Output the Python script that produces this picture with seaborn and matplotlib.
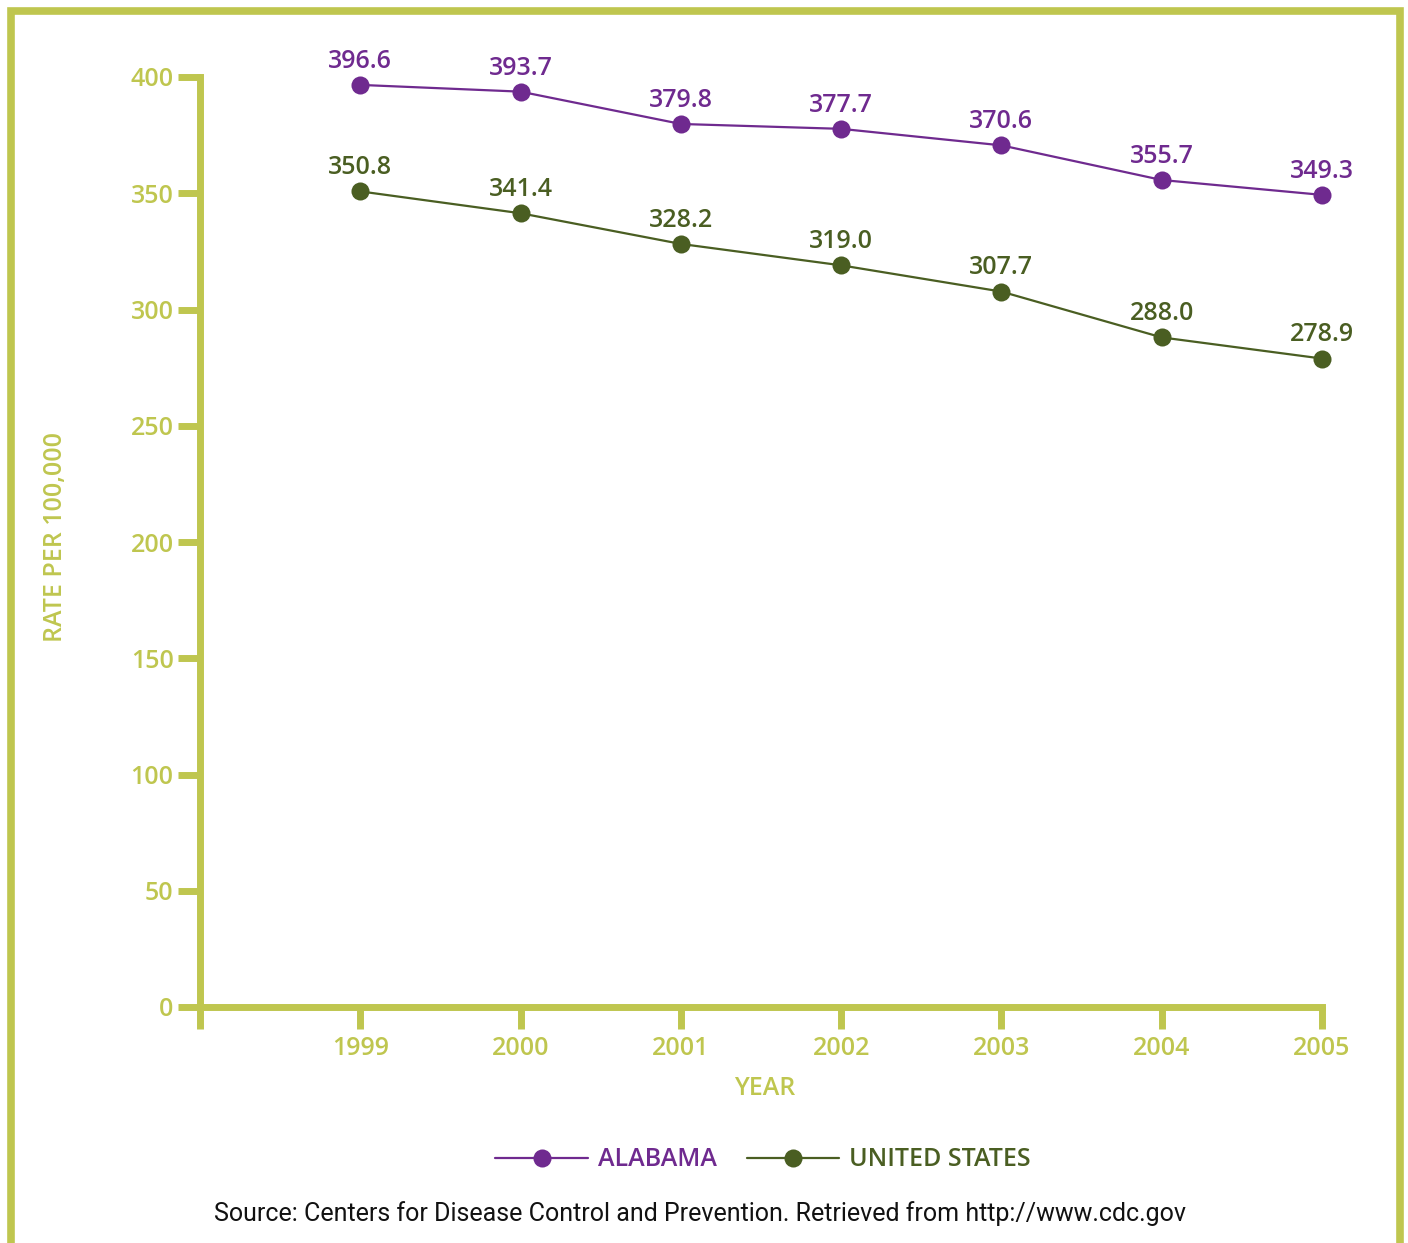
import numpy as np
import pandas as pd
import matplotlib
matplotlib.use("Agg")
import matplotlib.pyplot as plt
from matplotlib.lines import Line2D
import seaborn as sns

# data
years = [1999, 2000, 2001, 2002, 2003, 2004, 2005]
alabama = [396.6, 393.7, 379.8, 377.7, 370.6, 355.7, 349.3]
united_states = [350.8, 341.4, 328.2, 319.0, 307.7, 288.0, 278.9]
series_names = ["ALABAMA", "UNITED STATES"]
y_ticks = [0, 50, 100, 150, 200, 250, 300, 350, 400]

OLIVE = "#bfc64f"
PURPLE = "#6f2a8f"
GREEN = "#4a5e22"
colors = {"ALABAMA": PURPLE, "UNITED STATES": GREEN}

df = pd.DataFrame({
    "year": years * 2,
    "rate": alabama + united_states,
    "region": [series_names[0]] * len(years) + [series_names[1]] * len(years),
})

sns.set_theme(style="white")
plt.rcParams["font.family"] = ["Open Sans", "DejaVu Sans"]

fig = plt.figure(figsize=(14.08, 12.43), dpi=100)
ax = fig.add_axes([200 / 1408, 1 - 1007 / 1243, 1122 / 1408, 930 / 1243])

sns.lineplot(data=df, x="year", y="rate", hue="region", palette=colors,
             marker="o", markersize=13, markeredgewidth=0, linewidth=1.6,
             ax=ax, legend=False)

# value labels
for name, vals in zip(series_names, [alabama, united_states]):
    for x, v in zip(years, vals):
        ax.annotate(f"{v:.1f}", (x, v), xytext=(0, 8), textcoords="offset points",
                    ha="center", va="bottom", fontsize=18, fontweight="semibold",
                    color=colors[name])

ax.set_xlim(1998, 2005)
ax.set_ylim(0, 400)
ax.set_xticks([1998] + years)
ax.set_xticklabels([""] + [str(y) for y in years])
ax.set_yticks(y_ticks)
for s in ["top", "right"]:
    ax.spines[s].set_visible(False)
for s in ["left", "bottom"]:
    ax.spines[s].set_color(OLIVE)
    ax.spines[s].set_linewidth(5)
    ax.spines[s].set_capstyle("projecting")
ax.tick_params(axis="both", bottom=True, left=True, colors=OLIVE, width=5,
               length=16, labelsize=18)
ax.tick_params(axis="y", pad=3)
ax.tick_params(axis="x", pad=5)
for lab in ax.get_xticklabels() + ax.get_yticklabels():
    lab.set_fontweight("semibold")
ax.set_xlabel("YEAR", fontsize=18, fontweight="semibold", color=OLIVE)
ax.set_ylabel("RATE PER 100,000", fontsize=18, fontweight="semibold", color=OLIVE)
ax.xaxis.set_label_coords(0.5035, -0.074)
ax.yaxis.set_label_coords(-0.118, 0.505)
ax.grid(False)
for ln in ax.lines:
    ln.set_clip_on(False)

# legend
handles = [Line2D([0], [0], color=colors[n], marker="o", markersize=13,
                  markeredgewidth=0, linewidth=1.6) for n in series_names]
leg = fig.legend(handles, series_names, loc="center", ncol=2,
                 bbox_to_anchor=(763 / 1408, 1 - 1160 / 1243), frameon=False,
                 handlelength=3.7, handletextpad=0.4, columnspacing=1.2,
                 labelcolor="linecolor", prop={"size": 18, "weight": "semibold"})

fig.text(700 / 1408, 1 - 1214 / 1243,
         "Source: Centers for Disease Control and Prevention. Retrieved from http://www.cdc.gov",
         ha="center", va="center", fontsize=18, color="#111111",
         family=["Roboto", "DejaVu Sans"])

# outer frame (open at the bottom)
fx = [11 / 1408, 11 / 1408, 1400 / 1408, 1400 / 1408]
fy = [0, 1 - 11 / 1243, 1 - 11 / 1243, 0]
fig.add_artist(Line2D(fx, fy, color=OLIVE, linewidth=5.5,
                      solid_joinstyle="miter", transform=fig.transFigure))

fig.savefig("out.png", dpi=100, facecolor="white")
